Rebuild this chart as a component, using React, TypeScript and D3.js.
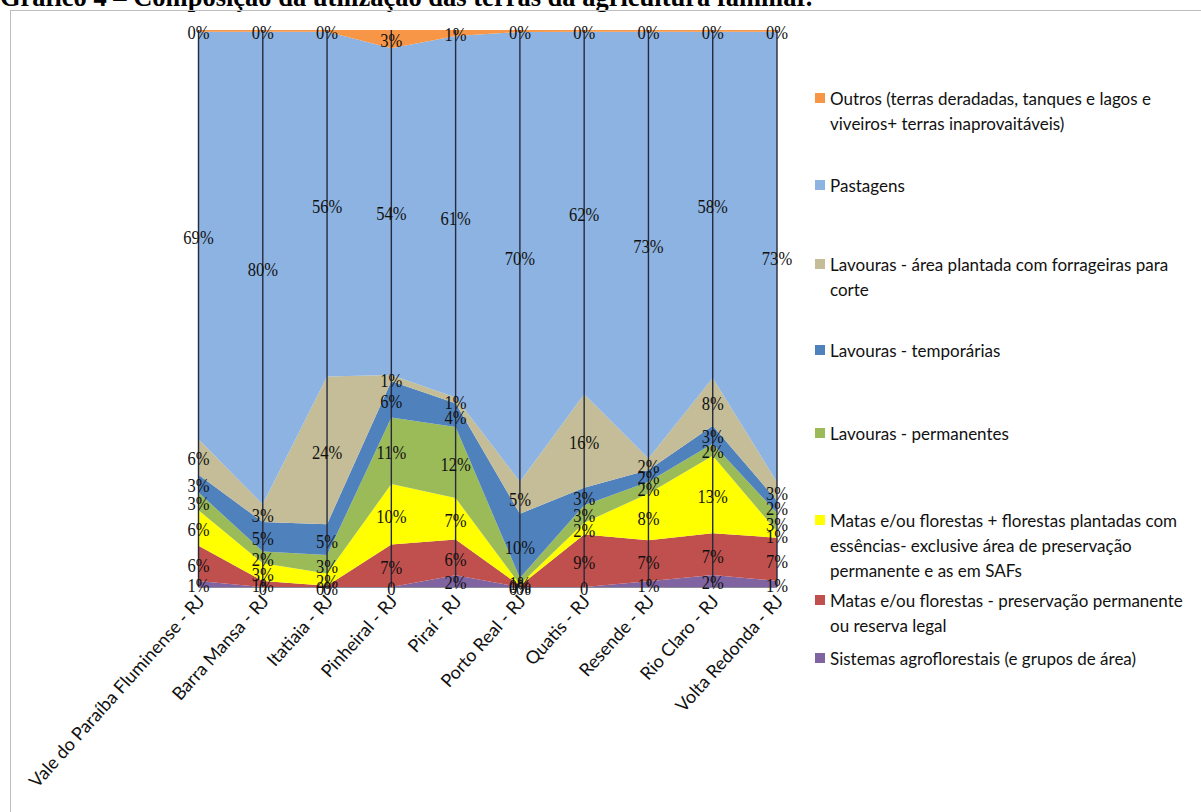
import React from "react";
import * as d3 from "d3";

// Municipalities (x categories)
const categories = [
  "Vale do Paraíba Fluminense - RJ",
  "Barra Mansa - RJ",
  "Itatiaia - RJ",
  "Pinheiral - RJ",
  "Piraí - RJ",
  "Porto Real - RJ",
  "Quatis - RJ",
  "Resende - RJ",
  "Rio Claro - RJ",
  "Volta Redonda - RJ",
];

// Share of each land use (%), stacked from the bottom up
const sistemas = [1, 0, 0, 0, 2, 0, 0, 1, 2, 1];
const matasPreservacao = [6, 1, 0.2, 7, 6, 0.2, 9, 7, 7, 7];
const matasFlorestas = [6, 3, 2, 10, 7, 0.2, 2, 8, 13, 1];
const permanentes = [3, 2, 3, 11, 12, 1, 3, 2, 2, 3];
const temporarias = [3, 5, 5, 6, 4, 10, 3, 2, 3, 2];
const forrageiras = [6, 3, 24, 1, 1, 5, 16, 2, 8, 3];
const pastagens = [69, 80, 56, 54, 61, 70, 62, 73, 58, 73];
const outros = [0.3, 0.3, 0.3, 3, 1, 0.3, 0.3, 0.3, 0.3, 0.3];

const seriesKeys = [
  "sistemas",
  "matasPreservacao",
  "matasFlorestas",
  "permanentes",
  "temporarias",
  "forrageiras",
  "pastagens",
  "outros",
];
const seriesValues = [
  sistemas,
  matasPreservacao,
  matasFlorestas,
  permanentes,
  temporarias,
  forrageiras,
  pastagens,
  outros,
];
const seriesColors = [
  "#8064A2",
  "#C0504D",
  "#FFFF00",
  "#9BBB59",
  "#4F81BD",
  "#C4BD97",
  "#8DB3E2",
  "#F79646",
];

// Legend entries, top to bottom (already wrapped)
const legendLines: string[][] = [
  ["Outros (terras deradadas, tanques e lagos e", "viveiros+ terras inaprovaitáveis)"],
  ["Pastagens"],
  ["Lavouras - área plantada com forrageiras para", "corte"],
  ["Lavouras - temporárias"],
  ["Lavouras - permanentes"],
  [
    "Matas e/ou florestas + florestas plantadas com",
    "essências-  exclusive área de preservação",
    "permanente e as em SAFs",
  ],
  ["Matas e/ou florestas - preservação permanente", "ou reserva legal"],
  ["Sistemas agroflorestais (e grupos de área)"],
];
const legendSeries = [7, 6, 5, 4, 3, 2, 1, 0];

const title = "Gráfico 4 – Composição da utilização das terras da agricultura familiar.";

function fmt(v: number) {
  return v === 0 ? "0" : `${Math.round(v)}%`;
}

export default function App() {
  const W = 1201;
  const H = 812;
  const plotTop = 30;
  const plotBottom = 587;

  const x = d3.scalePoint<string>().domain(categories).range([198.5, 777]);
  const y = d3.scaleLinear().domain([0, 1]).range([plotBottom, plotTop]);

  const rows = categories.map((c, j) => {
    const r: any = { cat: c };
    seriesKeys.forEach((k, i) => (r[k] = seriesValues[i][j]));
    return r;
  });

  const layers = d3.stack<any>().keys(seriesKeys).offset(d3.stackOffsetExpand)(rows);

  const area = d3
    .area<any>()
    .x((d) => x(d.data.cat) as number)
    .y0((d) => y(d[0]))
    .y1((d) => y(d[1]));

  const legendFirstY = [98, 185, 264, 350, 433, 520, 600, 658];
  const lineH = 25;

  return (
    <svg
      width={W}
      height={H}
      style={{ position: "fixed", left: 0, top: 0, background: "#fff" }}
      fontFamily="Lato, 'Open Sans', sans-serif"
    >
      <rect x={0} y={0} width={W} height={H} fill="#fff" />
      <text
        x={0}
        y={6}
        fontFamily="'Liberation Serif', 'Times New Roman', serif"
        fontWeight="bold"
        fontSize={26.5}
        fill="#000"
      >
        {title}
      </text>
      <rect x={10.5} y={10.5} width={1400} height={1000} fill="none" stroke="#bdbdbd" strokeWidth={1} />

      {layers.map((layer, i) => (
        <path key={layer.key} d={area(layer) as string} fill={seriesColors[i]} stroke="none" />
      ))}

      {/* drop lines */}
      {categories.map((c) => (
        <line
          key={c}
          x1={x(c)}
          x2={x(c)}
          y1={plotTop}
          y2={plotBottom}
          stroke="#262a3a"
          strokeWidth={1.4}
        />
      ))}
      <line x1={198.5} x2={777} y1={plotBottom + 0.5} y2={plotBottom + 0.5} stroke="#8a8a9a" strokeWidth={1} />

      {/* data labels */}
      {layers.map((layer, i) =>
        layer.map((d: any, j: number) => {
          const cx = x(d.data.cat) as number;
          const cy = (y(d[0]) + y(d[1])) / 2 + 2;
          return (
            <text
              key={`${i}-${j}`}
              transform={`translate(${cx},${cy}) scale(0.87,1)`}
              textAnchor="middle"
              dominantBaseline="central"
              fontFamily="'Liberation Serif', 'Times New Roman', serif"
              fontSize={19}
              fill="#111"
            >
              {fmt(seriesValues[i][j])}
            </text>
          );
        })
      )}

      {/* category labels */}
      {categories.map((c) => (
        <text
          key={c}
          transform={`translate(${(x(c) as number) + 7},${plotBottom + 15}) rotate(-48)`}
          textAnchor="end"
          fontSize={18}
          fill="#111"
        >
          {c}
        </text>
      ))}

      {/* legend */}
      {legendLines.map((lines, k) => {
        const y0 = legendFirstY[k];
        return (
          <g key={k}>
            <rect x={815} y={y0 - 5} width={10} height={10} fill={seriesColors[legendSeries[k]]} />
            {lines.map((t, li) => (
              <text
                key={li}
                x={830}
                y={y0 + li * lineH}
                dominantBaseline="central"
                fontSize={17}
                fill="#111"
              >
                {t}
              </text>
            ))}
          </g>
        );
      })}
    </svg>
  );
}
